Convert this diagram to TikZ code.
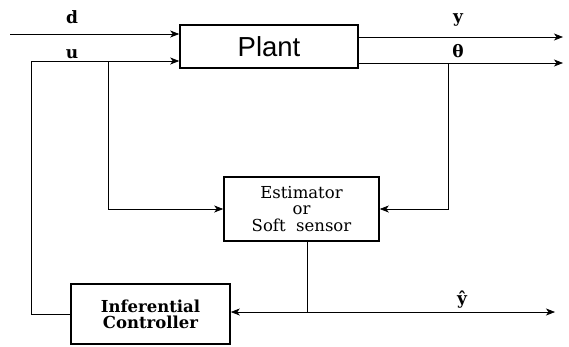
\documentclass[tikz,border=0pt]{standalone}
\usepackage{fontspec}
\setmainfont{DejaVu Serif}
\newfontfamily\plantfont{Liberation Sans}
\usetikzlibrary{arrows.meta}
\begin{document}
\begin{tikzpicture}[x=1pt,y=-1pt,
  blk/.style={draw,line width=1.6pt,rectangle,inner sep=0pt,align=center},
  conn/.style={line width=0.7pt},
  arr/.style={conn,-{Stealth[length=9pt,width=7pt,inset=2.5pt]}},
  lbl/.style={font=\fontsize{17}{17}\selectfont\bfseries,inner sep=0pt}]
\useasboundingbox (0,0) rectangle (569,346);
\node[blk,minimum width=178pt,minimum height=43pt] (plant) at (269,46.5) {\plantfont\fontsize{27.5}{27.5}\selectfont Plant};
\node[blk,minimum width=155pt,minimum height=64pt,font=\fontsize{16.5}{16.5}\selectfont] (est) at (301.5,209) {Estimator\\or\\Soft\ \ sensor};
\node[blk,minimum width=159pt,minimum height=60pt,font=\fontsize{16.5}{16}\selectfont\bfseries] (ctrl) at (150.5,314) {Inferential\\Controller};
\coordinate (d0) at (10,34);
\coordinate (uc) at (31,61);
\coordinate (ub) at (108,61);
\coordinate (yend) at (563,37);
\coordinate (tend) at (563,63);
\coordinate (tb) at (448,63);
\coordinate (j) at (307,312);
\coordinate (yhend) at (555,312);
\draw[arr] (d0) -- (d0 -| plant.west);
\draw[arr] (ctrl.west) -| (uc) -- (uc -| plant.west);
\draw[arr] (ub) |- (est.west);
\draw[arr] (plant.east |- yend) -- (yend);
\draw[arr] (plant.east |- tend) -- (tend);
\draw[arr] (tb) |- (est.east);
\draw[conn] (est.south -| j) -- (j);
\draw[arr] (j) -- (ctrl.east |- j);
\draw[arr] (j) -- (yhend);
\node[lbl] (ld) at (72,17) {d};
\node[lbl] (lu) at (72,54) {u};
\node[lbl] (ly) at (458,20) {y};
\node[lbl] (lt) at (458,51) {θ};
\node[lbl] (lyh) at (462,300) {ŷ};
\end{tikzpicture}
\end{document}
